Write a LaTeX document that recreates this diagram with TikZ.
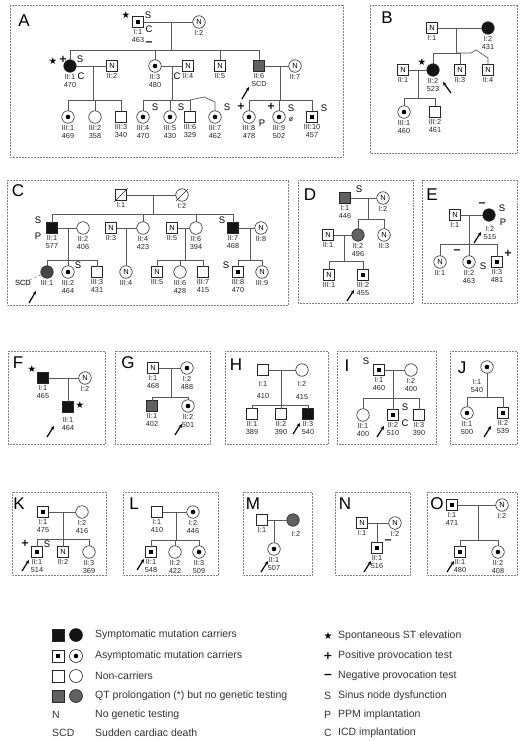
\documentclass[tikz,border=0pt]{standalone}
\usepackage{fontspec}
\setmainfont{Liberation Sans}
\newfontfamily\dejavu{DejaVu Sans}
\usetikzlibrary{calc,arrows.meta}
\tikzset{
 ind/.style={draw=black!85, line width=0.6pt, inner sep=0pt, outer sep=0pt},
 sq/.style={ind, rectangle, minimum size=11pt},
 ci/.style={ind, circle, minimum size=12.5pt},
 fl/.style={fill=black!92},
 sh/.style={fill=black!62},
 dsq/.style={path picture={\fill[black] ([shift={(-2pt,-2pt)}]path picture bounding box.center) rectangle ([shift={(2pt,2pt)}]path picture bounding box.center);}},
 dci/.style={path picture={\fill[black] (path picture bounding box.center) circle (2.3pt);}},
 nn/.style={path picture={\node[inner sep=0pt,font=\fontsize{7.5}{7.5}\selectfont] at (path picture bounding box.center) {N};}},
 lbl/.style={font=\fontsize{7.3}{8}\selectfont, align=center, inner sep=0pt, text=black!85, label distance=2pt},
 mk/.style={font=\fontsize{9.5}{9.5}\selectfont, inner sep=0pt},
 ln/.style={draw=black!65, line width=0.7pt},
 panel/.style={draw=black!50, densely dotted, line width=0.5pt},
 plet/.style={font=\fontsize{17}{17}\selectfont, inner sep=0pt},
 prob/.style={line width=1.2pt, -{Stealth[length=3.8pt,width=3.4pt]}},
 legt/.style={font=\fontsize{10.5}{10.5}\selectfont, anchor=west, inner sep=0pt, text=black!80},
 dslash/.style={line width=0.6pt, draw=black!85},
 lsq/.style={sq, minimum size=12pt},
 lci/.style={ci, minimum size=13pt},
}
\newcommand\indiv[5]{\node[#2,label={[lbl]below:{#5}}] (#1) at (#3,#4) {};}
\newcommand\mk[4]{\node[mk] (#1) at (#2,#3) {#4};}
\newcommand\mstar[3]{\node[mk,font=\dejavu\fontsize{9.5}{9.5}\selectfont] (#1) at (#2,#3) {★};}
\newcommand\mplus[3]{\node[mk,font=\dejavu\bfseries\fontsize{10}{10}\selectfont] (#1) at (#2,#3) {+};}
\newcommand\mminus[3]{\node[mk,font=\dejavu\bfseries\fontsize{10}{10}\selectfont] (#1) at (#2,#3) {−};}
\newcommand\sib[5]{%
  \coordinate (#1m) at (#2,#3); \coordinate (#1s) at (#2,#4);
  \draw[ln] (#1m) -- (#1s);
  \foreach \c in {#5} {\draw[ln] (\c) -- (\c |- #1s) -- (#1s);}
}
\begin{document}
\begin{tikzpicture}[x=1pt,y=-1pt]
\useasboundingbox (0,0) rectangle (519,741);
\fill[white] (0,0) rectangle (519,741);

% ---------------- Panel A
\draw[panel] (10,5) rectangle (343,157);
\node[plet] (Alet) at (24,21) {A};
\indiv{A11}{sq,dsq}{138}{22}{I:1\\463}
\indiv{A12}{ci,nn}{199}{22}{I:2}
\mstar{A11a}{126}{15} \mk{A11b}{148}{15}{S} \mk{A11c}{149}{29}{C}
\draw[ln] (A11) -- (A12);
\indiv{A21}{ci,fl}{70}{66}{II:1\\470}
\indiv{A22}{sq,nn}{112}{66}{II:2}
\indiv{A23}{ci,dci}{155}{66}{II:3\\480}
\indiv{A24}{sq,nn}{188}{66}{II:4}
\indiv{A25}{sq,nn}{220}{66}{II:5}
\indiv{A26}{sq,sh}{259}{66}{II:6\\SCD}
\indiv{A27}{ci,nn}{295}{66}{II:7}
\sib{A1}{171}{22}{50}{A21,A23,A25,A26}
\mstar{A21a}{53}{61} \mplus{A21b}{63}{59} \mk{A21c}{80}{59}{S} \mk{A21d}{81}{76}{C}
\mminus{A23a}{149}{44} \mk{A23b}{177}{76}{C}
\draw[prob] (242,99) -- (249,87);
\indiv{A31}{ci,dci}{68}{117}{III:1\\469}
\indiv{A32}{ci}{95}{117}{III:2\\358}
\indiv{A33}{sq}{121}{117}{III:3\\340}
\indiv{A34}{ci,dci}{143}{117}{III:4\\470}
\indiv{A35}{ci,dci}{170}{117}{III:5\\430}
\indiv{A36}{sq}{190}{117}{III:6\\329}
\indiv{A37}{ci,dci}{215}{117}{III:7\\462}
\indiv{A38}{ci,dci}{249}{117}{III:8\\478}
\indiv{A39}{ci,dci}{279}{117}{III:9\\502}
\indiv{A310}{sq,dsq}{312}{117}{III:10\\457}
\draw[ln] (A21) -- (A22); \sib{A2}{93}{66}{100}{A31,A32,A33}
\draw[ln] (A23) -- (A24); \sib{A3}{172}{66}{100}{A34,A35,A36}
\draw[ln] (A36 |- A3s) -- (204,97) -- (215,102) -- (A37);
\draw[ln] (A26) -- (A27); \sib{A4}{280}{66}{100}{A38,A39,A310}
\mk{A34a}{155}{107}{S} \mk{A35a}{181}{107}{S} \mk{A37a}{227}{107}{S}
\mplus{A38a}{241}{106} \mk{A38b}{262}{123}{P}
\mplus{A39a}{271}{106} \mk{A39b}{291}{108}{S} \mk{A39c}{291}{120}{\fontsize{7}{7}\selectfont ø}
\mk{A310a}{324}{108}{S}

% ---------------- Panel B
\draw[panel] (370,5) rectangle (517,153);
\node[plet] (Blet) at (387,18) {B};
\indiv{B11}{sq,nn}{432}{28}{I:1}
\indiv{B12}{ci,fl}{488}{28}{I:2\\431}
\draw[ln] (B11) -- (B12);
\indiv{B21}{sq,nn}{403}{70}{II:1}
\indiv{B22}{ci,fl}{433}{70}{II:2\\523}
\indiv{B23}{sq,nn}{460}{70}{II:3}
\indiv{B24}{sq,nn}{488}{70}{II:4}
\sib{B1}{456}{28}{53}{B22,B23}
\draw[ln] (B1s) -- (471,53) -- (476,50) -- (488,58) -- (B24);
\mstar{B22a}{422}{62}
\draw[prob] (451,93) -- (443,82);
\indiv{B31}{ci,dci}{404}{112}{III:1\\460}
\indiv{B32}{sq}{435}{112}{III:2\\461}
\draw[ln] (B21) -- (B22); \sib{B2}{418}{70}{98}{B31,B32}

% ---------------- Panel C
\draw[panel] (7,180) rectangle (288,305);
\node[plet] (Clet) at (18,191) {C};
\indiv{C11}{sq}{121}{195}{I:1}
\indiv{C12}{ci}{182}{195}{I:2}
\draw[dslash] ($(C11.south west)+(-1.5,1.5)$) -- ($(C11.north east)+(1.5,-1.5)$);
\draw[dslash] ($(C12.south west)+(-1.5,1.5)$) -- ($(C12.north east)+(1.5,-1.5)$);
\draw[ln] (C11) -- (C12);
\indiv{C21}{sq,fl}{52}{228}{II:1\\577} \mk{C21a}{38}{220}{S} \mk{C21b}{38}{236}{P}
\indiv{C22}{ci}{83}{228}{II:2\\406}
\indiv{C23}{sq,nn}{111}{228}{II:3}
\indiv{C24}{ci}{143}{228}{II:4\\423}
\indiv{C25}{sq,nn}{172}{228}{II:5}
\indiv{C26}{ci}{196}{228}{II:6\\394}
\indiv{C27}{sq,fl}{233}{228}{II:7\\468} \mk{C27a}{222}{220}{S}
\indiv{C28}{ci,nn}{261}{228}{II:8}
\sib{C1}{153}{195}{214}{C21,C24,C26,C27}
\indiv{C31}{ci,fill=black!72}{47}{272}{III:1}
\indiv{C32}{ci,dci}{68}{272}{III:2\\464} \mk{C32a}{78}{265}{S}
\indiv{C33}{sq}{97}{272}{III:3\\431}
\indiv{C34}{ci,nn}{126}{272}{III:4}
\indiv{C35}{sq,nn}{157}{272}{III:5}
\indiv{C36}{ci}{180}{272}{III:6\\428}
\indiv{C37}{sq}{203}{272}{III:7\\415}
\indiv{C38}{sq,dsq}{238}{272}{III:8\\470} \mk{C38a}{226}{265}{S}
\indiv{C39}{ci,nn}{262}{272}{III:9}
\draw[ln] (C21) -- (C22); \sib{C2}{68}{228}{260}{C31,C32,C33}
\draw[ln] (C23) -- (C24); \coordinate (C3m) at (126,228); \draw[ln] (C3m) -- (C34);
\draw[ln] (C25) -- (C26); \sib{C4}{185}{228}{260}{C35,C36,C37}
\draw[ln] (C27) -- (C28); \sib{C5}{250}{228}{260}{C38,C39}
\node[mk,font=\fontsize{7.5}{7.5}\selectfont] (C31a) at (23,283) {SCD};
\draw[densely dashed, black!60, line width=0.4pt] (C31a) -- (C31);
\draw[prob] (29,303) -- (36,291);

% ---------------- Panel D
\draw[panel] (298,180) rectangle (413,303);
\node[plet] (Dlet) at (310,195) {D};
\indiv{D11}{sq,sh}{345}{198}{I:1\\446} \mk{D11a}{359}{189}{S}
\indiv{D12}{ci,nn}{383}{198}{I:2}
\draw[ln] (D11) -- (D12);
\indiv{D21}{sq,nn}{328}{235}{II:1}
\indiv{D22}{ci,sh}{358}{235}{II:2\\496}
\indiv{D23}{ci,nn}{384}{235}{II:3}
\sib{D1}{368}{198}{219}{D22,D23}
\indiv{D31}{sq,nn}{329}{275}{III:1}
\indiv{D32}{sq,dsq}{363}{275}{III:2\\455}
\draw[ln] (D21) -- (D22); \sib{D2}{344}{235}{261}{D31,D32}
\draw[prob] (347,301) -- (354,290);

% ---------------- Panel E
\draw[panel] (422,180) rectangle (517,303);
\node[plet] (Elet) at (432,195) {E};
\indiv{E11}{sq,nn}{455}{215}{I:1}
\node[ci,fl] (E12) at (489,215) {};
\node[lbl] (E12l) at (490,233) {I:2\\515};
\mminus{E12a}{482}{205} \mk{E12b}{502}{208}{S} \mk{E12c}{503}{222}{P}
\draw[prob] (474,243) -- (481,232);
\draw[ln] (E11) -- (E12);
\indiv{E21}{ci,nn}{440}{262}{II:1}
\indiv{E22}{ci,dci}{469}{262}{II:2\\463} \mminus{E22a}{457}{252} \mk{E22b}{483}{266}{S}
\indiv{E23}{sq,dsq}{497}{262}{II:3\\481} \mplus{E23a}{508}{253}
\sib{E1}{469}{215}{244}{E21,E22,E23}

% ---------------- Panel F
\draw[panel] (8,351) rectangle (105,444);
\node[plet] (Flet) at (18,363) {F};
\indiv{F11}{sq,fl}{43}{378}{I:1\\465} \mstar{F11a}{32}{369}
\indiv{F12}{ci,nn}{85}{378}{I:2}
\draw[ln] (F11) -- (F12);
\node[sq,fl,label={[lbl,label distance=5pt]below:{II:1\\464}}] (F21) at (68,407) {};
\coordinate (F1m) at (68,378); \draw[ln] (F1m) -- (F21);
\mstar{F21a}{80}{405}
\draw[prob] (47,437) -- (54,426);

% ---------------- Panel G
\draw[panel] (115,351) rectangle (210,444);
\node[plet] (Glet) at (128,363) {G};
\indiv{G11}{sq,nn}{153}{368}{I:1\\468}
\indiv{G12}{ci,dci}{187}{368}{I:2\\488}
\draw[ln] (G11) -- (G12);
\indiv{G21}{sq,sh}{152}{406}{II:1\\402}
\indiv{G22}{ci,dci}{188}{406}{II:2\\501}
\sib{G1}{171}{368}{397}{G21,G22}
\draw[prob] (175,435) -- (182,424);

% ---------------- Panel H
\draw[panel] (225,351) rectangle (328,444);
\node[plet] (Hlet) at (236,365) {H};
\node[sq] (H11) at (263,370) {};
\node[lbl] (H11l) at (263,384) {I:1}; \node[lbl] (H11n) at (263,396) {410};
\node[ci] (H12) at (302,370) {};
\node[lbl] (H12l) at (302,384) {I:2}; \node[lbl] (H12n) at (302,397) {415};
\draw[ln] (H11) -- (H12);
\indiv{H21}{sq}{252}{414}{II:1\\389}
\indiv{H22}{sq}{281}{414}{II:2\\390}
\indiv{H23}{sq,fl}{308}{414}{II:3\\540}
\sib{H1}{281}{370}{405}{H21,H22,H23}
\draw[prob] (293,434) -- (300,423);

% ---------------- Panel I
\draw[panel] (337,351) rectangle (436,444);
\node[plet] (Ilet) at (347,366) {I};
\indiv{I11}{sq,dsq}{379}{370}{I:1\\460} \mk{I11a}{366}{361}{S}
\indiv{I12}{ci}{411}{370}{I:2\\400}
\draw[ln] (I11) -- (I12);
\indiv{I21}{ci}{363}{415}{II:1\\400}
\indiv{I22}{sq,dsq}{393}{415}{II:2\\510} \mk{I22a}{405}{407}{S} \mk{I22b}{405}{423}{C}
\indiv{I23}{sq}{419}{415}{II:3\\390}
\sib{I1}{393}{370}{398}{I21,I22,I23}
\draw[prob] (377,437) -- (384,426);

% ---------------- Panel J
\draw[panel] (450,351) rectangle (517,444);
\node[plet] (Jlet) at (462,368) {J};
\node[ci,dci] (J11) at (487,367) {};
\node[lbl] (J11l) at (477,386) {I:1\\540};
\indiv{J21}{ci,dci}{467}{413}{II:1\\500}
\indiv{J22}{sq,dsq}{503}{413}{II:2\\539}
\sib{J1}{487}{373.3}{397}{J21,J22}
\draw[prob] (484,437) -- (491,426);

% ---------------- Panel K
\draw[panel] (12,492) rectangle (106,575);
\node[plet] (Klet) at (19,504) {K};
\indiv{K11}{sq,dsq}{43}{512}{I:1\\475}
\indiv{K12}{ci}{82}{512}{I:2\\416}
\draw[ln] (K11) -- (K12);
\indiv{K21}{sq,dsq}{37}{552}{II:1\\514} \mplus{K21a}{25}{543} \mk{K21b}{47}{544}{S}
\indiv{K22}{sq,nn}{63}{552}{II:2}
\indiv{K23}{ci}{89}{552}{II:3\\369}
\sib{K1}{63}{512}{539}{K21,K22,K23}
\draw[prob] (22,571) -- (29,560);

% ---------------- Panel L
\draw[panel] (123,492) rectangle (218,575);
\node[plet] (Llet) at (134,504) {L};
\indiv{L11}{sq}{157}{512}{I:1\\410}
\indiv{L12}{ci,dci}{193}{512}{I:2\\446}
\draw[ln] (L11) -- (L12);
\indiv{L21}{sq,dsq}{151}{552}{II:1\\548}
\indiv{L22}{ci}{175}{552}{II:2\\422}
\indiv{L23}{ci,dci}{199}{552}{II:3\\509}
\sib{L1}{176}{512}{540}{L21,L22,L23}
\draw[prob] (137,570) -- (144,559);

% ---------------- Panel M
\draw[panel] (243,492) rectangle (312,575);
\node[plet] (Mlet) at (253,504) {M};
\indiv{M11}{sq}{262}{520}{I:1}
\node[ci,sh] (M12) at (293,520) {};
\node[lbl] (M12l) at (296,534) {I:2};
\draw[ln] (M11) -- (M12);
\indiv{M21}{ci,dci}{274}{549}{II:1\\507}
\coordinate (M1m) at (274,520); \draw[ln] (M1m) -- (M21);
\draw[prob] (261,572) -- (268,561);

% ---------------- Panel N
\draw[panel] (335,492) rectangle (410,575);
\node[plet] (Nlet) at (345,504) {N};
\indiv{N11}{sq,nn}{362}{523}{I:1}
\indiv{N12}{ci,nn}{395}{523}{I:2}
\draw[ln] (N11) -- (N12);
\indiv{N21}{sq,dsq}{377}{548}{II:1\\516} \mminus{N21a}{388}{542}
\coordinate (N1m) at (377,523); \draw[ln] (N1m) -- (N21);
\draw[prob] (364,572) -- (371,561);

% ---------------- Panel O
\draw[panel] (427,492) rectangle (517,575);
\node[plet] (Olet) at (437,504) {O};
\indiv{O11}{sq,dsq}{452}{505}{I:1\\471}
\indiv{O12}{ci,nn}{502}{505}{I:2}
\draw[ln] (O11) -- (O12);
\indiv{O21}{sq,dsq}{460}{552}{II:1\\480}
\indiv{O22}{ci,dci}{498}{552}{II:2\\408}
\sib{O1}{478}{505}{540}{O21,O22}
\draw[prob] (447,572) -- (454,561);

% ---------------- Legend
\node[lsq,fl] (Lg1a) at (58,635) {}; \node[lci,fl] (Lg1b) at (76,635) {};
\node[legt] (Lg1t) at (95,635) {Symptomatic mutation carriers};
\node[lsq,dsq] (Lg2a) at (58,656) {}; \node[lci,dci] (Lg2b) at (76,656) {};
\node[legt] (Lg2t) at (95,656) {Asymptomatic mutation carriers};
\node[lsq] (Lg3a) at (58,676) {}; \node[lci] (Lg3b) at (76,676) {};
\node[legt] (Lg3t) at (95,676) {Non-carriers};
\node[lsq,sh] (Lg4a) at (58,696) {}; \node[lci,sh] (Lg4b) at (76,696) {};
\node[legt] (Lg4t) at (95,696) {QT prolongation (*) but no genetic testing};
\node[legt] (Lg5a) at (52,715) {N};
\node[legt] (Lg5t) at (95,715) {No genetic testing};
\node[legt] (Lg6a) at (52,733) {SCD};
\node[legt] (Lg6t) at (95,733) {Sudden cardiac death};
\node[mk,font=\dejavu\fontsize{10}{10}\selectfont] (Rg1a) at (328,636) {★};
\node[legt] (Rg1t) at (338,636) {Spontaneous ST elevation};
\node[mk,font=\dejavu\bfseries\fontsize{11}{11}\selectfont] (Rg2a) at (328,656) {+};
\node[legt] (Rg2t) at (338,656) {Positive provocation test};
\node[mk,font=\dejavu\bfseries\fontsize{11}{11}\selectfont] (Rg3a) at (328,676) {−};
\node[legt] (Rg3t) at (338,676) {Negative provocation test};
\node[legt] (Rg4a) at (324,696) {S};
\node[legt] (Rg4t) at (338,696) {Sinus node dysfunction};
\node[legt] (Rg5a) at (324,715) {P};
\node[legt] (Rg5t) at (338,715) {PPM implantation};
\node[legt] (Rg6a) at (324,733) {C};
\node[legt] (Rg6t) at (338,733) {ICD implantation};
\end{tikzpicture}
\end{document}
